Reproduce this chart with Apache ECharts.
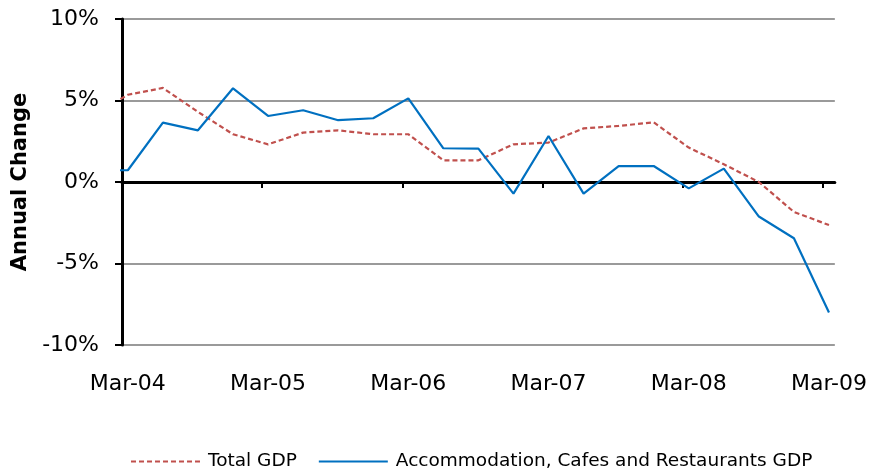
<!DOCTYPE html>
<html><head><meta charset="utf-8">
<script src="https://cdn.jsdelivr.net/npm/echarts@6/dist/echarts.min.js"></script>
<style>html,body{margin:0;padding:0;background:#fff}#c{width:870px;height:470px}</style>
</head><body><div id="c"></div>
<script>
const quarters = ['Dec-03','Mar-04','Jun-04','Sep-04','Dec-04','Mar-05','Jun-05','Sep-05','Dec-05','Mar-06','Jun-06','Sep-06','Dec-06','Mar-07','Jun-07','Sep-07','Dec-07','Mar-08','Jun-08','Sep-08','Dec-08','Mar-09'];
const totalGDP = [4.1, 5.35, 5.77, 4.3, 2.93, 2.31, 3.03, 3.17, 2.93, 2.93, 1.33, 1.33, 2.31, 2.42, 3.29, 3.44, 3.66, 2.11, 1.09, 0.0, -1.84, -2.64];
const accomGDP = [0.72, 0.72, 3.64, 3.17, 5.75, 4.05, 4.40, 3.79, 3.91, 5.13, 2.07, 2.05, -0.71, 2.82, -0.71, 0.98, 0.98, -0.39, 0.82, -2.12, -3.45, -8.01];
const tickLabels = ['Mar-04','Mar-05','Mar-06','Mar-07','Mar-08','Mar-09'];
const seriesNames = ['Total GDP', 'Accommodation, Cafes and Restaurants GDP'];

const MONTHS = {Jan:0,Feb:1,Mar:2,Apr:3,May:4,Jun:5,Jul:6,Aug:7,Sep:8,Oct:9,Nov:10,Dec:11};
function monthIndex(lbl){ const [m,y] = lbl.split('-'); return (2000 + (+y) - 2004) * 12 + MONTHS[m] - 2; }
const xs = quarters.map(q => monthIndex(q) + 0.5);
const tickPos = tickLabels.map(monthIndex);
const labelPos = tickPos.map(v => v + 0.5);
const FONT = 'DejaVu Sans';

const chart = echarts.init(document.getElementById('c'), null, {renderer:'canvas'});
chart.setOption({
  animation: false,
  backgroundColor: '#fff',
  textStyle: {fontFamily: FONT},
  grid: {left: 122, right: 33, top: 19, bottom: 125, containLabel: false},
  legend: {
    top: 447, left: 125, itemWidth: 69, itemHeight: 14, itemGap: 21,
    itemStyle: {opacity: 0, borderWidth: 0},
    textStyle: {fontFamily: FONT, fontSize: 18.5, color: '#000', padding: [0, 0, 0, 3]},
    data: seriesNames
  },
  xAxis: [{
    type: 'value', min: 0, max: 61,
    axisLine: {show: true, onZero: true, lineStyle: {color: '#000', width: 3}},
    axisTick: {show: true, customValues: tickPos, length: 6, lineStyle: {color: '#000', width: 2}},
    axisLabel: {show: false},
    splitLine: {show: false}
  }, {
    type: 'value', min: 0, max: 61, position: 'bottom',
    axisLine: {show: false, onZero: false},
    axisTick: {show: false},
    axisLabel: {show: true, customValues: labelPos, margin: 28, fontSize: 22, color: '#000', fontFamily: FONT,
      formatter: v => { const i = labelPos.indexOf(v); return i >= 0 ? tickLabels[i] : ''; }},
    splitLine: {show: false}
  }],
  yAxis: {
    type: 'value', min: -10, max: 10, interval: 5,
    name: 'Annual Change', nameLocation: 'middle', nameGap: 89,
    nameTextStyle: {fontFamily: FONT, fontSize: 21, fontWeight: 'bold', color: '#000'},
    axisLine: {show: true, onZero: false, lineStyle: {color: '#000', width: 3}},
    axisTick: {show: true, length: 7, lineStyle: {color: '#000', width: 2}},
    axisLabel: {formatter: '{value}%', fontSize: 22, margin: 23, color: '#000', fontFamily: FONT},
    splitLine: {show: true, lineStyle: {color: '#9a9a9a', width: 2}}
  },
  series: [{
    name: seriesNames[0], type: 'line', xAxisIndex: 0, symbol: 'none', clip: true,
    lineStyle: {color: '#C0504D', width: 2.2, type: [5, 3]}, itemStyle: {color: '#C0504D'},
    data: xs.map((x, i) => [x, totalGDP[i]])
  }, {
    name: seriesNames[1], type: 'line', xAxisIndex: 0, symbol: 'none', clip: true,
    lineStyle: {color: '#0070C0', width: 2.2}, itemStyle: {color: '#0070C0'},
    data: xs.map((x, i) => [x, accomGDP[i]])
  }]
});
</script></body></html>
